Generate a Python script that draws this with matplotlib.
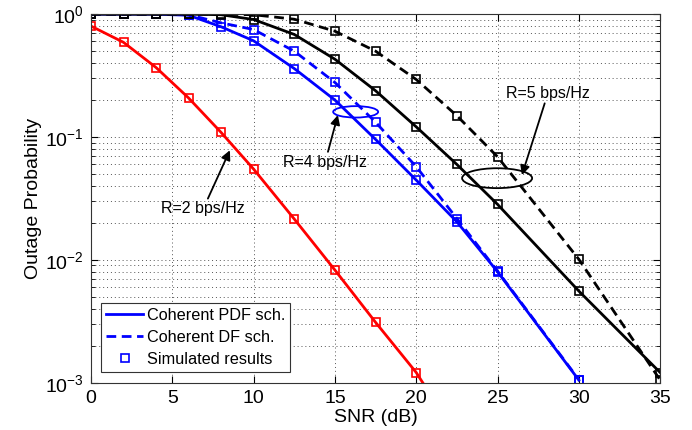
import numpy as np
import matplotlib
matplotlib.use("Agg")
import matplotlib.pyplot as plt
from matplotlib.patches import Ellipse
from matplotlib.lines import Line2D
from matplotlib.ticker import LogLocator, NullFormatter, FixedLocator

plt.rcParams['font.family'] = ['Liberation Sans', 'DejaVu Sans']
plt.rcParams['mathtext.fontset'] = 'custom'
plt.rcParams['mathtext.rm'] = 'Liberation Sans'
plt.rcParams['mathtext.it'] = 'Liberation Sans'

# SNR points (dB)
snr_r2 = [0, 2, 4, 6, 8, 10, 12.5, 15, 17.5, 20]
pdf_r2 = [0.80, 0.59, 0.368, 0.208, 0.109, 0.0548, 0.0215, 0.00826, 0.0031, 0.00121]
snr_r2_line_end = 20.4
pdf_r2_line_end = 0.001

snr_r4 = [0, 2, 4, 6, 8, 10, 12.5, 15, 17.5, 20, 22.5, 25, 30]
pdf_r4 = [1.0, 1.0, 1.0, 0.98, 0.79, 0.607, 0.361, 0.200, 0.0956, 0.0446, 0.0204, 0.0080, 0.00105]
df_r4 = [1.0, 1.0, 1.0, 0.99, 0.85, 0.75, 0.50, 0.278, 0.132, 0.0573, 0.0217, 0.0081, 0.00106]

snr_r5 = [0, 2, 4, 6, 8, 10, 12.5, 15, 17.5, 20, 22.5, 25, 30, 35]
pdf_r5 = [1.0, 1.0, 1.0, 1.0, 0.99, 0.905, 0.684, 0.43, 0.238, 0.121, 0.0598, 0.0283, 0.00557, 0.00121]
df_r5 = [1.0, 1.0, 1.0, 1.0, 1.0, 0.99, 0.91, 0.727, 0.50, 0.294, 0.149, 0.069, 0.0101, 0.00105]

xticks = [0, 5, 10, 15, 20, 25, 30, 35]

fig = plt.figure(figsize=(6.92, 4.30), dpi=100)
ax = fig.add_axes([0.1315, 0.110, 0.8225, 0.857])

lw = 2.0
ms = 5.5
dash = (0, (3.5, 2))
mk = dict(marker='s', markersize=ms, markerfacecolor='none', markeredgewidth=1.2)

# R=2
ax.plot(snr_r2 + [snr_r2_line_end], pdf_r2 + [pdf_r2_line_end], color='#ff0000', lw=lw)
ax.plot(snr_r2, pdf_r2, linestyle='none', color='#ff0000', **mk)
# R=4
ax.plot(snr_r4, pdf_r4, color='#0000ff', lw=lw, **mk)
ax.plot(snr_r4, df_r4, color='#0000ff', lw=lw, linestyle=dash, **mk)
# R=5
ax.plot(snr_r5, pdf_r5, color='black', lw=lw, **mk)
ax.plot(snr_r5, df_r5, color='black', lw=lw, linestyle=dash, **mk)

ax.set_yscale('log')
ax.set_xlim(0, 35)
ax.set_ylim(1e-3, 1)
ax.xaxis.set_major_locator(FixedLocator(xticks))
ax.set_xticklabels([str(t) for t in xticks])
ax.yaxis.set_minor_locator(LogLocator(base=10, subs=np.arange(2, 10), numticks=20))
ax.yaxis.set_minor_formatter(NullFormatter())
ax.set_yticks([1e-3, 1e-2, 1e-1, 1])
ax.set_yticklabels([r'$10^{-3}$', r'$10^{-2}$', r'$10^{-1}$', r'$10^{0}$'])

ax.grid(True, which='major', linestyle=(0, (1, 3)), color='#555555', lw=0.7)
ax.grid(True, which='minor', axis='y', linestyle=(0, (1, 3)), color='#555555', lw=0.7)
ax.tick_params(which='both', direction='in', top=True, right=True, labelsize=14, pad=5)
ax.tick_params(which='major', length=5)
ax.tick_params(which='minor', length=3)
for s in ax.spines.values():
    s.set_linewidth(0.8)
    s.set_color('#333333')

ax.set_xlabel('SNR (dB)', fontsize=14, labelpad=1.5)
ax.set_ylabel('Outage Probability', fontsize=14, labelpad=2)

# ellipses (axes fraction)
ax.add_patch(Ellipse((0.465, 0.735), 0.079, 0.031, transform=ax.transAxes,
                     fill=False, edgecolor='#0000ff', lw=1.3, zorder=5))
ax.add_patch(Ellipse((0.7135, 0.555), 0.123, 0.054, transform=ax.transAxes,
                     fill=False, edgecolor='black', lw=1.3, zorder=5))

arrow = dict(arrowstyle='-|>', color='black', lw=1.3, mutation_scale=14, shrinkA=0, shrinkB=0)
ax.annotate('R=4 bps/Hz', xy=(15.18, 0.151), xytext=(14.4, 0.0625),
            fontsize=11.5, ha='center', va='center', arrowprops=arrow)
ax.annotate('R=5 bps/Hz', xy=(26.5, 0.049), xytext=(28.1, 0.228),
            fontsize=11.5, ha='center', va='center', arrowprops=arrow)
ax.annotate('R=2 bps/Hz', xy=(8.54, 0.078), xytext=(6.9, 0.026),
            fontsize=11.5, ha='center', va='center', arrowprops=arrow)

handles = [
    Line2D([], [], color='#0000ff', lw=lw),
    Line2D([], [], color='#0000ff', lw=lw, linestyle=dash),
    Line2D([], [], color='#0000ff', linestyle='none', **mk),
]
leg = ax.legend(handles, ['Coherent PDF sch.', 'Coherent DF sch.', 'Simulated results'],
                loc='lower left', bbox_to_anchor=(0.018, 0.03), fontsize=11.7,
                fancybox=False, framealpha=1, edgecolor='#333333',
                handlelength=2.3, handletextpad=0.2, borderpad=0.3, labelspacing=0.42,
                borderaxespad=0.0)
leg.get_frame().set_linewidth(0.8)

fig.savefig('out.png', dpi=100)
